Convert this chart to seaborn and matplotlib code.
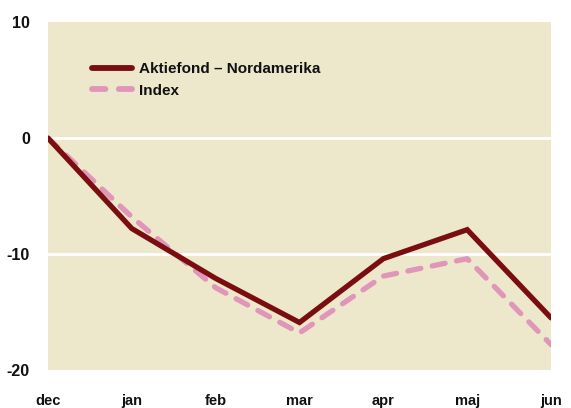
import matplotlib
matplotlib.use("Agg")
import matplotlib.pyplot as plt
import seaborn as sns
import pandas as pd

months = ["dec", "jan", "feb", "mar", "apr", "maj", "jun"]
aktiefond = [0, -7.8, -12.1, -15.9, -10.4, -7.9, -15.5]
index_vals = [0, -6.8, -12.9, -16.8, -11.9, -10.4, -17.8]
y_ticks = [10, 0, -10, -20]

series_names = ["Aktiefond – Nordamerika", "Index"]
df = pd.DataFrame({
    "x": list(range(len(months))) * 2,
    "value": aktiefond + index_vals,
    "series": [series_names[0]] * len(months) + [series_names[1]] * len(months),
})

sns.set_theme(style="white")
plt.rcParams["font.family"] = ["Liberation Sans", "DejaVu Sans"]

fig = plt.figure(figsize=(5.71, 4.08), dpi=100)
ax = fig.add_axes([0.084, 0.093, 0.881, 0.853])
ax.set_facecolor("#EDE7CC")

colors = {series_names[0]: "#7A0D10", series_names[1]: "#E096B8"}
dashes = {series_names[0]: "", series_names[1]: (2.5, 2.2)}
sns.lineplot(data=df, x="x", y="value", hue="series", style="series",
             palette=colors, dashes=dashes, linewidth=3.8, ax=ax,
             legend=False)
for ln in ax.get_lines():
    ln.set_solid_capstyle("round")
    ln.set_dash_capstyle("round")
    ln.set_solid_joinstyle("miter")
lines = ax.get_lines()
lines[0].set_zorder(4)
lines[1].set_zorder(3)

ax.set_xlim(0, len(months) - 1)
ax.set_ylim(-20, 10)
ax.set_yticks(y_ticks)
ax.set_yticklabels([str(t) for t in y_ticks], fontsize=11.5, fontweight="bold", color="#111111")
ax.set_xticks(range(len(months)))
ax.set_xticklabels(months, fontsize=10.5, fontweight="bold", color="#111111")
ax.tick_params(axis="y", length=0, pad=13)
ax.tick_params(axis="x", length=0, pad=17)
for s in ax.spines.values():
    s.set_visible(False)
for t in [0, -10]:
    ax.axhline(t, color="white", linewidth=2.0, zorder=1)
ax.set_xlabel("")
ax.set_ylabel("")

from matplotlib.lines import Line2D
handles = [Line2D([], [], color=colors[series_names[0]], lw=4.2, solid_capstyle="round"),
           Line2D([], [], color=colors[series_names[1]], lw=4.2, dashes=(2.3, 2.3),
                  dash_capstyle="round")]
leg = ax.legend(handles, series_names, loc="upper left", bbox_to_anchor=(0.06, 0.925),
                frameon=False, handlelength=2.6, handletextpad=0.5, labelspacing=0.5,
                prop={"weight": "bold", "size": 11})
for t in leg.get_texts():
    t.set_color("#111111")

fig.savefig("out.png", dpi=100)
